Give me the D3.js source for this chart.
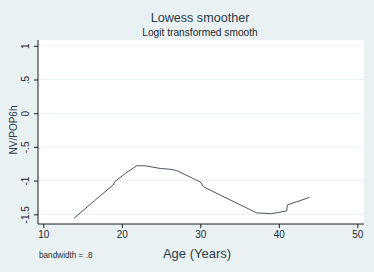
<!DOCTYPE html>
<html>
<head>
<meta charset="utf-8">
<script src="https://cdn.jsdelivr.net/npm/d3@7"></script>
<style>
  body { margin: 0; background: #eaf1f3; }
  svg { display: block; font-family: "Liberation Sans", Arial, sans-serif; }
</style>
</head>
<body>
<div id="chart"></div>
<script>
// lowess curve
const ages = [13.9, 16.5, 18.9, 19.1, 20.5, 21.9, 23.0, 24.9, 26.0, 27.0, 29.1, 30.0, 30.4, 32.1, 35.1, 37.2, 39.1, 41.0, 41.1, 43.9];
const vals = [-1.56, -1.30, -1.065, -1.016, -0.89, -0.78, -0.78, -0.82, -0.83, -0.85, -0.97, -1.02, -1.09, -1.19, -1.36, -1.48, -1.49, -1.45, -1.36, -1.25];
const xTicks = [10, 20, 30, 40, 50];
const yTicks = [1, 0.5, 0, -0.5, -1, -1.5];
const yTickLabels = ["1", ".5", "0", "-.5", "-1", "-1.5"];

const width = 374, height = 272;
const plot = {left: 38, right: 364, top: 40, bottom: 224};

const svg = d3.select("#chart").append("svg")
  .attr("width", width).attr("height", height);

svg.append("rect").attr("width", width).attr("height", height).attr("fill", "#eaf1f3");
svg.append("rect")
  .attr("x", plot.left).attr("y", plot.top)
  .attr("width", plot.right - plot.left).attr("height", plot.bottom - plot.top)
  .attr("fill", "#fff");

const x = d3.scaleLinear().domain([10, 50]).range([43.3, 357.3]);
const y = d3.scaleLinear().domain([-1.5, 1]).range([214.3, 45.8]);

// grid
svg.append("g").selectAll("line").data(yTicks).join("line")
  .attr("x1", plot.left).attr("x2", plot.right)
  .attr("y1", d => y(d)).attr("y2", d => y(d))
  .attr("stroke", "#eaf1f3").attr("stroke-width", 1);

// axes
const yAxis = d3.axisLeft(y).tickValues(yTicks).tickSize(4)
  .tickFormat((d, i) => yTickLabels[i]);
const gy = svg.append("g").attr("transform", `translate(${plot.left},0)`).call(yAxis);
gy.select(".domain").attr("d", `M0,${plot.top}V${plot.bottom}`).attr("stroke", "#1a1a1a");
gy.selectAll(".tick line").attr("stroke", "#1a1a1a");
gy.selectAll(".tick text")
  .attr("x", 0).attr("dy", 0)
  .attr("transform", "translate(-9,0) rotate(-90)")
  .attr("text-anchor", "middle")
  .attr("fill", "#1c2833")
  .style("font-size", "10px");

const xAxis = d3.axisBottom(x).tickValues(xTicks).tickSize(4);
const gx = svg.append("g").attr("transform", `translate(0,${plot.bottom})`).call(xAxis);
gx.select(".domain").attr("d", `M${plot.left},0H${plot.right}`).attr("stroke", "#1a1a1a");
gx.selectAll(".tick line").attr("stroke", "#1a1a1a");
gx.selectAll(".tick text").attr("y", 7).attr("fill", "#1c2833").style("font-size", "10px");

// curve
svg.append("path")
  .datum(ages.map((a, i) => [a, vals[i]]))
  .attr("fill", "none")
  .attr("stroke", "#4f555a")
  .attr("stroke-width", 1)
  .attr("d", d3.line().x(d => x(d[0])).y(d => y(d[1])));

// texts
svg.append("text").attr("x", 200).attr("y", 21.5).attr("text-anchor", "middle")
  .attr("fill", "#2b3a4a").style("font-size", "12.6px").text("Lowess smoother");
svg.append("text").attr("x", 200).attr("y", 35.5).attr("text-anchor", "middle")
  .attr("fill", "#1c2833").style("font-size", "10.2px").text("Logit transformed smooth");
svg.append("text").attr("transform", "translate(17,130) rotate(-90)").attr("text-anchor", "middle")
  .attr("fill", "#2b3a4a").style("font-size", "10px").text("NV/POP6h");
svg.append("text").attr("x", 197).attr("y", 258).attr("text-anchor", "middle")
  .attr("fill", "#2b3a4a").style("font-size", "13px").text("Age (Years)");
svg.append("text").attr("x", 39).attr("y", 258)
  .attr("fill", "#1c2833").style("font-size", "8.2px").text("bandwidth = .8");
</script>
</body>
</html>
